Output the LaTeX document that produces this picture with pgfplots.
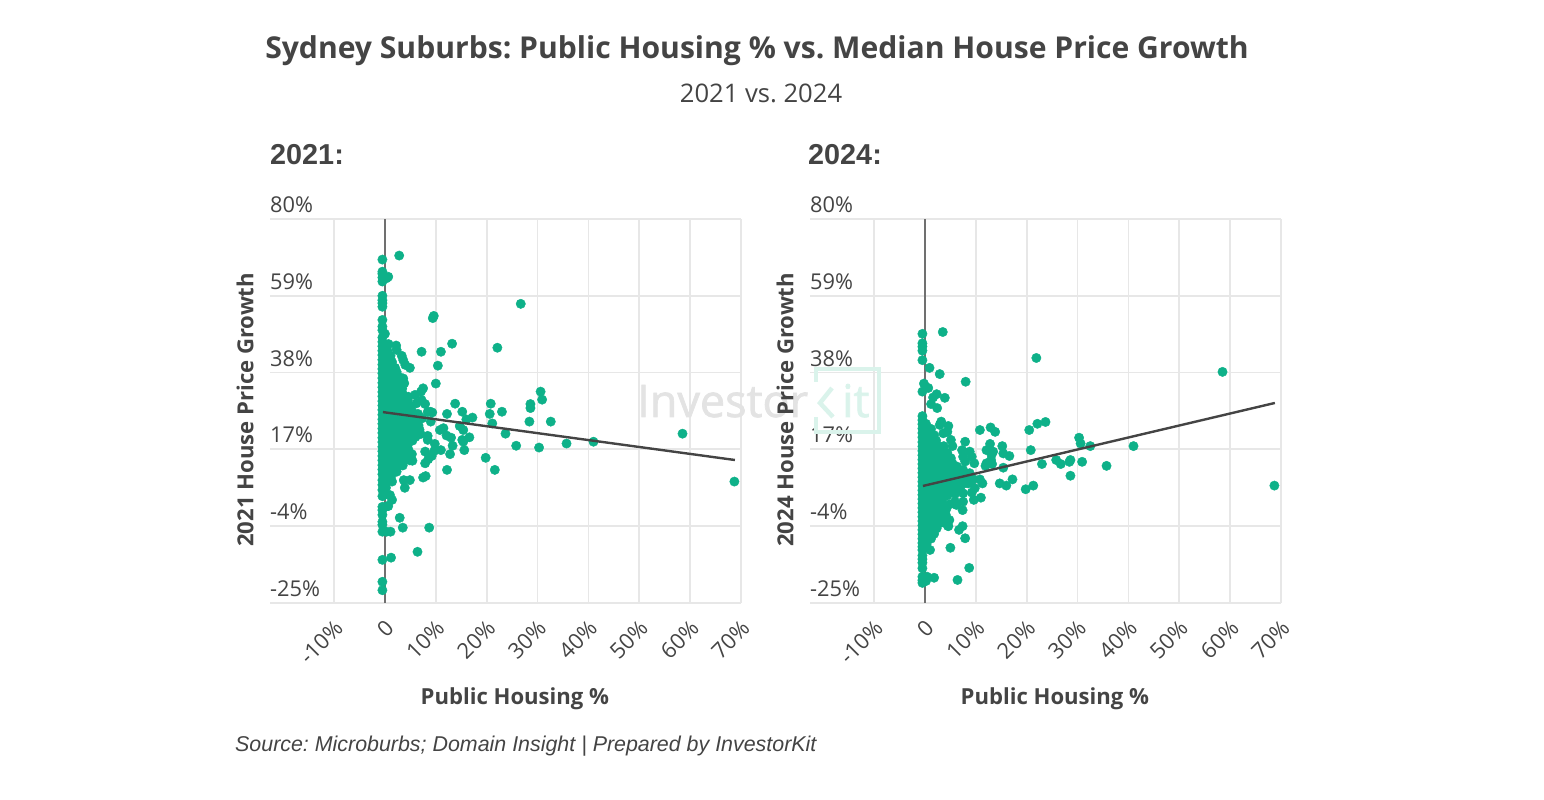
\documentclass[border=0pt]{standalone}
\usepackage{pgfplots}
\pgfplotsset{compat=1.18}
\usepackage{fontspec}
\setmainfont{Open Sans}
\newfontfamily\robo{Liberation Sans}
\newfontfamily\wmfont[RawFeature={embolden=1.6}]{Open Sans}
\frenchspacing
\definecolor{txt}{HTML}{444444}
\definecolor{dot}{HTML}{0EB189}
\definecolor{gridc}{HTML}{E7E7E7}
\definecolor{wmgrey}{HTML}{E3E3E3}
\definecolor{wmgreen}{HTML}{DAF3EB}

\pgfplotsset{
  panel/.style={
    set layers,
    scale only axis, width=471pt, height=384pt, anchor=south west,
    xmin=-22.6, xmax=70, ymin=-25, ymax=80, clip=false,
    axis line style={draw=none},
    xtick={-10,0,10,20,30,40,50,60,70},
    xticklabels={-10\%,0\hspace{6pt},10\%,20\%,30\%,40\%,50\%,60\%,70\%},
    ytick={-25,-4,17,38,59,80},
    yticklabels={-25\%,-4\%,17\%,38\%,59\%,80\%},
    major tick length=0pt, grid=major,
    grid style={gridc, line width=1.8pt},
    tick label style={text=txt, font=\fontsize{21.8}{24}\selectfont},
    yticklabel style={anchor=south west, inner sep=0pt, yshift=6pt},
    xticklabel style={rotate=45, anchor=east, inner sep=0pt, xshift=-11.8pt, yshift=-18.5pt},
    label style={text=txt, font=\fontsize{22.1}{24}\selectfont\bfseries},
    xlabel style={at={(axis description cs:0.52,-0.25)}, anchor=center},
    ylabel style={at={(axis description cs:-0.053,0.503)}, anchor=center},
    extra x ticks={0}, extra x tick labels={},
    extra x tick style={grid style={color=black!56, line width=1.8pt}},
  },
  pts/.style={only marks, mark=*, mark size=4.7pt, color=dot, mark options={draw=none, fill=dot}},
  fit/.style={no marks, color=txt, line width=2.4pt, on layer=axis foreground},
}

\begin{document}
\begin{tikzpicture}[x=1pt, y=1pt]
\path (0,0) rectangle (1544,800);

% watermark goes first so the charts sit on top of it
\node[anchor=base west, inner sep=0pt, text=wmgrey, font=\fontsize{45}{50}\selectfont\wmfont] at (637,383) {Investor};
\node[anchor=base west, inner sep=0pt, text=wmgreen, font=\fontsize{45}{50}\selectfont\wmfont] at (842,383) {it};
\draw[wmgreen, line width=4pt] (816,418) -- (816,431) -- (879,431) -- (879,367.5) -- (816,367.5) -- (816,383);
\draw[wmgreen, line width=4.5pt] (832,412) -- (820,397) -- (833,383);

\node[text=txt, font=\fontsize{30.1}{32}\selectfont\bfseries] at (757,749.7) {Sydney Suburbs: Public Housing \% vs. Median House Price Growth};
\node[text=txt, font=\fontsize{25.6}{28}\selectfont] at (761,707) {2021 vs. 2024};
\node[anchor=base west, inner sep=0pt, text=txt, font=\fontsize{28.8}{30}\selectfont\robo\bfseries] at (270,635.5) {2021:};
\node[anchor=base west, inner sep=0pt, text=txt, font=\fontsize{28.8}{30}\selectfont\robo\bfseries] at (808,635.5) {2024:};
\node[anchor=base west, inner sep=0pt, text=txt, font=\fontsize{21.4}{24}\selectfont\robo\itshape] at (235,48) {Source: Microburbs; Domain Insight | Prepared by InvestorKit};

% ---- 2021 ----
\begin{axis}[panel, at={(270pt,197pt)}, xlabel={Public Housing \%}, ylabel={2021 House Price Growth}]
% isolated suburbs
\addplot[pts] coordinates {
(26.7,56.8)(22.1,44.8)(30.6,32.8)(30.9,30.6)(28.6,29.4)(28.6,28.3)(23.0,27.3)(28.4,24.6)(32.6,24.6)
(23.7,21.3)(25.8,18.0)(30.3,17.5)(35.7,18.6)(41.0,19.1)(58.5,21.3)(68.7,8.2)
(2.8,70.0)(0.65,64.2)(0.3,63.8)(0,48.6)(9.6,53.5)(9.4,52.9)(13.2,45.9)(7.2,43.7)(11.0,43.7)(10.4,39.9)
(2.2,45.4)(2.3,44.2)(3.3,42.6)(3.6,41.4)(4.0,40.1)(4.9,39.3)(1.1,41.4)(0.7,45.8)(10.0,35.0)
(13.8,29.5)(20.8,29.5)(20.6,26.7)(12.2,26.7)(15.2,27.3)(16.0,25.2)(17.2,25.7)(14.7,23.4)(15.4,22.3)(21.1,24.1)
(2.3,38.2)(3.6,36.4)(3.8,35.1)(3.1,32.8)(7.5,33.7)(7.1,32.8)(5.9,31.9)(4.6,31.4)(7.2,30.5)(7.9,29.4)(6.2,29.6)
(8.9,27.3)(8.4,27.2)(9.3,27.1)(6.5,26.7)(7.3,25.5)(9.0,24.6)(3.8,24.6)(5.2,24.1)(11.5,22.8)(10.8,22.3)
(8.4,20.7)(8.4,19.6)(12.1,20.8)(13.0,20.2)(16.6,20.3)(15.2,19.6)(5.2,21.4)(6.2,20.9)
(9.8,18.5)(13.3,18.0)(15.4,19.1)(15.6,16.8)(7.9,16.4)(9.7,16.6)(11.0,16.8)(9.2,15.2)(8.5,14.3)(7.9,13.2)(12.8,15.7)
(19.8,14.7)(12.2,11.4)(21.6,11.4)(8.0,9.7)(7.5,9.3)(3.7,8.6)(4.9,8.6)(3.9,6.5)(1.4,8.2)(1.0,4.5)(1.4,3.2)
(-0.2,4.5)(0.5,1.5)(0.65,1.5)(2.9,-1.7)(3.5,-4.4)(8.7,-4.4)(0.3,-5.5)(1.1,-5.5)(6.4,-11.0)(1.2,-12.6)
};
% points stacked on the zero line
\addplot[pts] coordinates {
(-0.5,68.9)(-0.5,65.6)(-0.5,65.0)(-0.5,64.0)(-0.5,62.9)(-0.5,59.0)(-0.5,57.8)(-0.5,57.0)(-0.5,56.0)
(-0.5,52.4)(-0.5,50.6)(-0.5,49.6)(-0.5,47.6)(-0.5,46.4)(-0.5,45.2)(-0.5,44.0)(-0.5,42.8)(-0.5,41.5)(-0.5,40.2)
(-0.5,39.0)(-0.5,37.8)(-0.5,36.5)(-0.5,35.2)(-0.5,34.0)(-0.5,32.7)(-0.5,31.5)(-0.5,30.2)(-0.5,29.0)(-0.5,27.8)
(-0.5,26.5)(-0.5,25.2)(-0.5,24.0)(-0.5,22.7)(-0.5,21.5)(-0.5,20.2)(-0.5,19.0)(-0.5,17.7)(-0.5,16.5)(-0.5,15.2)
(-0.5,14.0)(-0.5,12.7)(-0.5,11.5)(-0.5,10.2)(-0.5,8.6)(-0.5,7.3)(-0.5,5.9)(-0.5,4.2)(-0.5,1.3)(-0.5,0.4)
(-0.5,-0.9)(-0.5,-2.8)(-0.5,-3.6)(-0.5,-5.5)(-0.5,-13.2)(-0.5,-19.2)(-0.5,-21.5)
};
% the solid mass next to zero
\addplot[pts] coordinates {
(0.4,45.5)(0.5,44.0)(0.3,42.5)(1.1,42.6)(0.4,41.0)(1.4,40.9)(0.3,39.5)(1.3,39.6)(2.0,39.3)
(0.5,38.0)(1.6,38.1)(0.3,36.5)(1.4,36.6)(2.4,36.4)(3.1,36.6)(0.5,35.0)(1.5,35.1)(2.3,35.0)
(0.3,33.5)(1.2,33.6)(2.3,33.4)(3.4,33.6)(0.4,32.0)(1.5,32.1)(2.7,32.0)(3.6,31.9)(0.3,30.5)(1.3,30.6)(2.4,30.4)(3.5,30.6)(4.5,30.4)
(0.5,29.0)(1.6,29.1)(2.7,28.9)(3.8,29.0)(4.9,28.8)(0.3,27.5)(1.4,27.6)(2.5,27.4)(3.6,27.6)(4.7,27.4)(5.3,27.6)
(0.5,26.0)(1.6,26.1)(2.7,25.9)(3.8,26.1)(4.9,26.0)(5.6,25.9)(0.3,24.5)(1.4,24.6)(2.5,24.4)(4.6,24.5)(5.8,24.6)
(0.5,23.0)(1.6,23.1)(2.7,22.9)(3.8,23.1)(4.9,23.0)(6.0,22.9)(0.3,21.5)(1.4,21.6)(2.5,21.4)(3.6,21.6)(4.7,21.4)(6.4,21.8)
(0.5,20.0)(1.6,20.1)(2.7,19.9)(3.8,20.1)(4.6,20.0)(0.3,18.5)(1.4,18.6)(2.5,18.4)(3.6,18.6)(4.5,18.4)
(0.5,17.0)(1.6,17.1)(2.7,16.9)(3.8,17.1)(4.6,17.0)(0.3,15.5)(1.4,15.6)(2.5,15.4)(3.6,15.6)(4.7,15.4)(5.3,15.7)
(0.5,14.0)(1.6,14.1)(2.7,13.9)(3.8,14.1)(4.9,14.0)(5.4,13.9)(0.3,12.5)(1.4,12.6)(2.5,12.4)(3.5,12.6)
(0.5,11.0)(1.6,11.1)(2.3,10.9)(0.3,9.5)(1.2,9.6)(0.3,8.0)(0.2,6.5)
(6.6,23.6)(6.8,22.4)(7.0,21.2)(6.0,20.4)(5.4,19.4)
};
\addplot[fit] coordinates {(-0.4,27.2) (68.8,14.1)};
\end{axis}

% ---- 2024 ----
\begin{axis}[panel, at={(810pt,197pt)}, xlabel={Public Housing \%}, ylabel={2024 House Price Growth}]
\addplot[pts] coordinates {
(3.5,49.1)(0.9,39.3)(2.9,37.6)(21.9,42.0)(8.0,35.5)(-0.2,35.0)(0.65,33.8)(2.3,32.1)(1.6,31.2)(3.9,31.1)(1.2,29.4)(2.4,28.3)
(58.5,38.2)(68.7,7.1)(41.0,17.9)(23.7,24.5)(22.1,24.0)(30.3,20.2)(30.6,18.6)(32.5,17.9)(25.8,14.1)(26.7,13.0)(23.0,13.0)
(28.4,13.6)(28.6,14.1)(30.9,13.6)(35.7,12.5)(28.6,9.8)
(2.9,23.7)(4.6,23.4)(3.6,21.4)(4.4,21.8)(3.2,24.6)(10.8,22.3)(12.9,23.0)(13.8,21.8)(20.5,22.3)(20.8,16.8)
(7.9,19.1)(5.1,19.6)(5.4,17.9)(3.7,17.9)(12.8,18.5)(15.2,17.9)(12.1,16.8)(13.4,16.4)(15.4,15.9)(16.6,15.2)
(7.3,16.8)(8.8,16.4)(7.5,15.0)(9.2,15.0)(9.7,13.2)(7.9,13.7)(5.1,14.6)(5.4,13.2)(13.1,15.5)(13.0,14.1)(12.1,13.2)(11.9,12.5)(13.2,13.0)
(15.4,12.0)(7.5,11.4)(8.8,10.5)(6.9,10.7)(10.8,8.8)(11.3,7.7)(9.8,6.4)(8.5,7.7)(8.0,8.6)(9.4,8.9)
(14.7,7.7)(16.0,7.1)(17.2,8.8)(19.8,6.1)(21.3,7.1)(11.0,3.8)(9.6,3.2)(7.5,2.7)(5.9,2.7)(4.9,2.0)(7.4,0.4)(6.2,1.8)(3.3,1.6)
(7.5,5.0)(5.9,4.8)(3.9,5.4)(6.9,6.2)(9.2,5.2)
(4.8,-2.3)(4.6,-4.0)(7.4,-4.0)(6.7,-5.0)(7.9,-7.3)(5.0,-9.9)(1.0,-10.5)(8.7,-15.4)(1.8,-18.1)(6.4,-18.7)(0.4,-17.8)(0.2,-19.0)
(4.2,15.0)(4.4,16.0)(5.0,12.9)(5.6,11.0)(6.5,11.4)(6.3,12.3)(6.6,9.8)(7.8,10.0)(8.6,9.2)(9.2,8.4)(8.4,8.4)(7.9,7.8)(7.0,8.2)(6.6,7.9)
(3.2,-0.8)(4.1,-0.9)(4.2,-2.0)(3.8,-3.0)(4.2,0.7)(3.8,0.2)(2.9,-3.2)(4.5,-3.9)
};
\addplot[pts] coordinates {
(-0.5,48.6)(-0.5,46.0)(-0.5,45.1)(-0.5,44.0)(-0.5,41.4)(-0.5,32.8)(-0.5,26.1)(-0.5,25.0)(-0.5,23.9)(-0.5,22.7)(-0.5,21.5)
(-0.5,20.3)(-0.5,19.0)(-0.5,17.8)(-0.5,16.6)(-0.5,15.4)(-0.5,14.2)(-0.5,13.0)(-0.5,11.8)(-0.5,10.6)(-0.5,9.4)(-0.5,8.2)
(-0.5,7.0)(-0.5,5.8)(-0.5,4.6)(-0.5,3.4)(-0.5,2.2)(-0.5,1.0)(-0.5,-0.2)(-0.5,-1.4)(-0.5,-2.6)(-0.5,-3.8)(-0.5,-5.0)
(-0.5,-6.2)(-0.5,-7.4)(-0.5,-8.6)(-0.5,-9.6)(-0.5,-10.5)(-0.5,-12.0)(-0.5,-13.0)(-0.5,-14.0)(-0.5,-15.5)
(-0.5,-17.8)(-0.5,-18.8)(-0.5,-19.5)
};
\addplot[pts] coordinates {
(0.2,24.0)(0.4,22.5)(1.2,22.6)(0.3,21.0)(1.3,21.1)(1.8,20.9)(0.5,19.5)(1.5,19.6)(2.2,19.4)
(0.3,18.0)(1.4,18.1)(2.6,17.9)(0.5,16.5)(1.6,16.6)(2.7,16.4)(3.2,16.5)(0.3,15.0)(1.4,15.1)(2.5,14.9)(3.6,15.0)
(0.5,13.5)(1.6,13.6)(2.7,13.4)(3.8,13.6)(4.6,13.4)(0.3,12.0)(1.4,12.1)(2.5,11.9)(3.6,12.1)(4.7,11.9)(5.6,12.0)
(0.5,10.5)(1.6,10.6)(2.7,10.4)(3.8,10.6)(4.9,10.4)(6.0,10.6)(0.3,9.0)(1.4,9.1)(2.5,8.9)(3.6,9.1)(4.7,8.9)(5.8,9.1)(7.0,9.0)
(0.5,7.5)(1.6,7.6)(2.7,7.4)(3.8,7.6)(4.9,7.4)(6.0,7.6)(7.2,7.4)(0.3,6.0)(1.4,6.1)(2.5,5.9)(3.6,6.1)(4.7,5.9)(5.6,6.0)
(0.5,4.5)(1.6,4.6)(2.7,4.4)(3.8,4.6)(4.4,4.4)(0.3,3.0)(1.4,3.1)(2.5,2.9)(3.4,3.1)(0.5,1.5)(1.6,1.6)(2.7,1.4)(3.0,1.6)
(0.3,0.0)(1.4,0.1)(2.5,-0.1)(3.2,0.1)(0.5,-1.5)(1.6,-1.4)(2.7,-1.6)(3.5,-1.4)(0.3,-3.0)(1.4,-2.9)(2.5,-3.1)(2.8,-2.9)
(0.5,-4.5)(1.6,-4.4)(2.3,-4.6)(0.3,-6.0)(1.3,-5.9)(1.8,-6.1)(0.5,-7.5)(1.2,-7.4)(0.3,-9.0)
};
\addplot[fit] coordinates {(-0.4,7.0) (68.8,29.7)};
\end{axis}
\end{tikzpicture}
\end{document}
